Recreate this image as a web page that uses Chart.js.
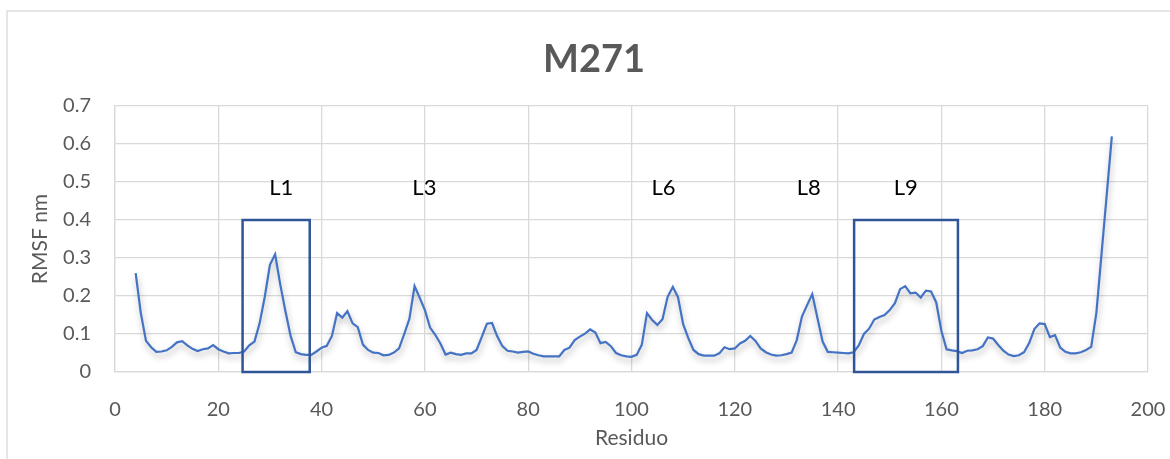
<!DOCTYPE html>
<html>
<head>
<meta charset="utf-8">
<script src="https://cdn.jsdelivr.net/npm/chart.js@4.4.1/dist/chart.umd.min.js"></script>
<style>
  html, body { margin: 0; padding: 0; background: #ffffff; }
  #wrap { width: 1170px; height: 459px; position: relative; }
</style>
</head>
<body>
<div id="wrap"><canvas id="c" width="1170" height="459"></canvas></div>
<script>
// RMSF per residue, starting at residue 4
const firstResidue = 4;
const rmsf = [
  0.260, 0.155, 0.082, 0.065, 0.053, 0.054, 0.057, 0.066, 0.078, 0.081,
  0.070, 0.061, 0.055, 0.060, 0.062, 0.071, 0.060, 0.054, 0.049, 0.050,
  0.050, 0.054, 0.070, 0.080, 0.128, 0.198, 0.282, 0.310, 0.230, 0.160,
  0.095, 0.052, 0.047, 0.045, 0.045, 0.054, 0.064, 0.069, 0.095, 0.155,
  0.143, 0.160, 0.128, 0.118, 0.072, 0.058, 0.051, 0.050, 0.044, 0.045,
  0.051, 0.062, 0.100, 0.140, 0.226, 0.195, 0.163, 0.117, 0.098, 0.075,
  0.046, 0.051, 0.047, 0.045, 0.049, 0.049, 0.058, 0.092, 0.127, 0.129,
  0.094, 0.068, 0.056, 0.054, 0.051, 0.053, 0.054, 0.048, 0.044, 0.041,
  0.041, 0.041, 0.041, 0.058, 0.064, 0.084, 0.093, 0.101, 0.112, 0.104,
  0.076, 0.079, 0.068, 0.050, 0.044, 0.041, 0.040, 0.045, 0.072, 0.155,
  0.137, 0.124, 0.139, 0.198, 0.224, 0.197, 0.126, 0.089, 0.058, 0.047,
  0.043, 0.043, 0.043, 0.049, 0.065, 0.060, 0.062, 0.075, 0.082, 0.095,
  0.082, 0.062, 0.052, 0.046, 0.043, 0.044, 0.047, 0.051, 0.084, 0.146,
  0.176, 0.205, 0.142, 0.080, 0.053, 0.052, 0.051, 0.050, 0.049, 0.052,
  0.070, 0.100, 0.114, 0.138, 0.145, 0.150, 0.163, 0.181, 0.218, 0.226,
  0.207, 0.209, 0.196, 0.214, 0.212, 0.183, 0.108, 0.060, 0.057, 0.055,
  0.050, 0.056, 0.057, 0.060, 0.068, 0.091, 0.088, 0.071, 0.056, 0.046,
  0.042, 0.044, 0.052, 0.076, 0.113, 0.128, 0.126, 0.092, 0.097, 0.064,
  0.053, 0.049, 0.049, 0.052, 0.058, 0.066, 0.155, 0.310, 0.465, 0.620
];

const xTicks = [0, 20, 40, 60, 80, 100, 120, 140, 160, 180, 200];
const yTicks = [0, 0.1, 0.2, 0.3, 0.4, 0.5, 0.6, 0.7];

// Loop annotations (residue, RMSF coordinates)
const loopLabels = ['L1', 'L3', 'L6', 'L8', 'L9'];
const loopLabelX = [32.2, 59.9, 106.2, 134.3, 153.1];
const loopLabelY = 0.484;
const loopBoxFrom = [24.7, 143.1];
const loopBoxTo = [37.7, 163.2];
const loopBoxTop = 0.4;

const points = rmsf.map((v, i) => ({ x: firstResidue + i, y: v }));

const GREY_TEXT = '#595959';
const GRID = '#d9d9d9';
const FONT = 'Lato, "Open Sans", sans-serif';

const decorPlugin = {
  id: 'decor',
  beforeDraw(chart) {
    const ctx = chart.ctx;
    ctx.save();
    ctx.fillStyle = '#ffffff';
    ctx.fillRect(0, 0, chart.width, chart.height);
    // chart frame
    ctx.strokeStyle = GRID;
    ctx.lineWidth = 1.3;
    ctx.strokeRect(7, 11, 1200, 500);
    ctx.restore();
  },
  beforeDatasetDraw(chart) {
    const ctx = chart.ctx;
    ctx.save();
    ctx.shadowColor = 'rgba(0,0,0,0.30)';
    ctx.shadowBlur = 6;
    ctx.shadowOffsetX = 1;
    ctx.shadowOffsetY = 4;
  },
  afterDatasetDraw(chart) {
    chart.ctx.restore();
  },
  afterDatasetsDraw(chart) {
    const ctx = chart.ctx;
    const xs = chart.scales.x, ys = chart.scales.y;
    ctx.save();
    // loop boxes
    ctx.strokeStyle = '#2f5597';
    ctx.lineWidth = 2.5;
    for (let i = 0; i < loopBoxFrom.length; i++) {
      const x0 = xs.getPixelForValue(loopBoxFrom[i]);
      const x1 = xs.getPixelForValue(loopBoxTo[i]);
      const y0 = ys.getPixelForValue(loopBoxTop);
      const y1 = ys.getPixelForValue(0);
      ctx.strokeRect(x0, y0, x1 - x0, y1 - y0);
    }
    // loop labels
    ctx.fillStyle = '#000000';
    ctx.font = '22px ' + FONT;
    ctx.textAlign = 'center';
    ctx.textBaseline = 'middle';
    loopLabels.forEach((t, i) => {
      ctx.fillText(t, xs.getPixelForValue(loopLabelX[i]), ys.getPixelForValue(loopLabelY));
    });
    // title
    ctx.fillStyle = GREY_TEXT;
    ctx.font = 'bold 38px ' + FONT;
    ctx.fillText('M271', 594, 60);
    // axis titles
    ctx.font = '21px ' + FONT;
    ctx.fillText('Residuo', (chart.chartArea.left + chart.chartArea.right) / 2, 438);
    ctx.translate(40, (chart.chartArea.top + chart.chartArea.bottom) / 2);
    ctx.rotate(-Math.PI / 2);
    ctx.fillText('RMSF nm', 0, 0);
    ctx.restore();
  }
};

new Chart(document.getElementById('c'), {
  type: 'line',
  data: {
    datasets: [{
      data: points,
      borderColor: '#4472c4',
      borderWidth: 2.2,
      pointRadius: 0,
      tension: 0,
      fill: false
    }]
  },
  options: {
    responsive: false,
    devicePixelRatio: 1,
    animation: false,
    layout: { padding: { top: 106, left: 0, right: 22, bottom: 0 } },
    plugins: { legend: { display: false }, tooltip: { enabled: false }, title: { display: false } },
    scales: {
      x: {
        type: 'linear',
        min: 0, max: 200,
        afterBuildTicks(scale) { scale.ticks = xTicks.map(v => ({ value: v })); },
        afterFit(scale) { scale.height = 87; scale.paddingLeft = 0; scale.paddingRight = 0; },
        grid: { color: GRID, lineWidth: 1.3, drawTicks: false },
        border: { color: GRID, width: 1.3 },
        ticks: { color: GREY_TEXT, font: { family: FONT, size: 20 }, padding: 26, maxRotation: 0,
                 callback: v => String(v) }
      },
      y: {
        min: 0, max: 0.7,
        afterBuildTicks(scale) { scale.ticks = yTicks.map(v => ({ value: v })); },
        afterFit(scale) { scale.width = 115; scale.paddingTop = 0; scale.paddingBottom = 0; },
        grid: { color: GRID, lineWidth: 1.3, drawTicks: false },
        border: { color: GRID, width: 1.3 },
        ticks: { color: GREY_TEXT, font: { family: FONT, size: 20 }, padding: 24,
                 callback: v => (v === 0 ? '0' : v.toFixed(1)) }
      }
    }
  },
  plugins: [decorPlugin]
});
</script>
</body>
</html>
